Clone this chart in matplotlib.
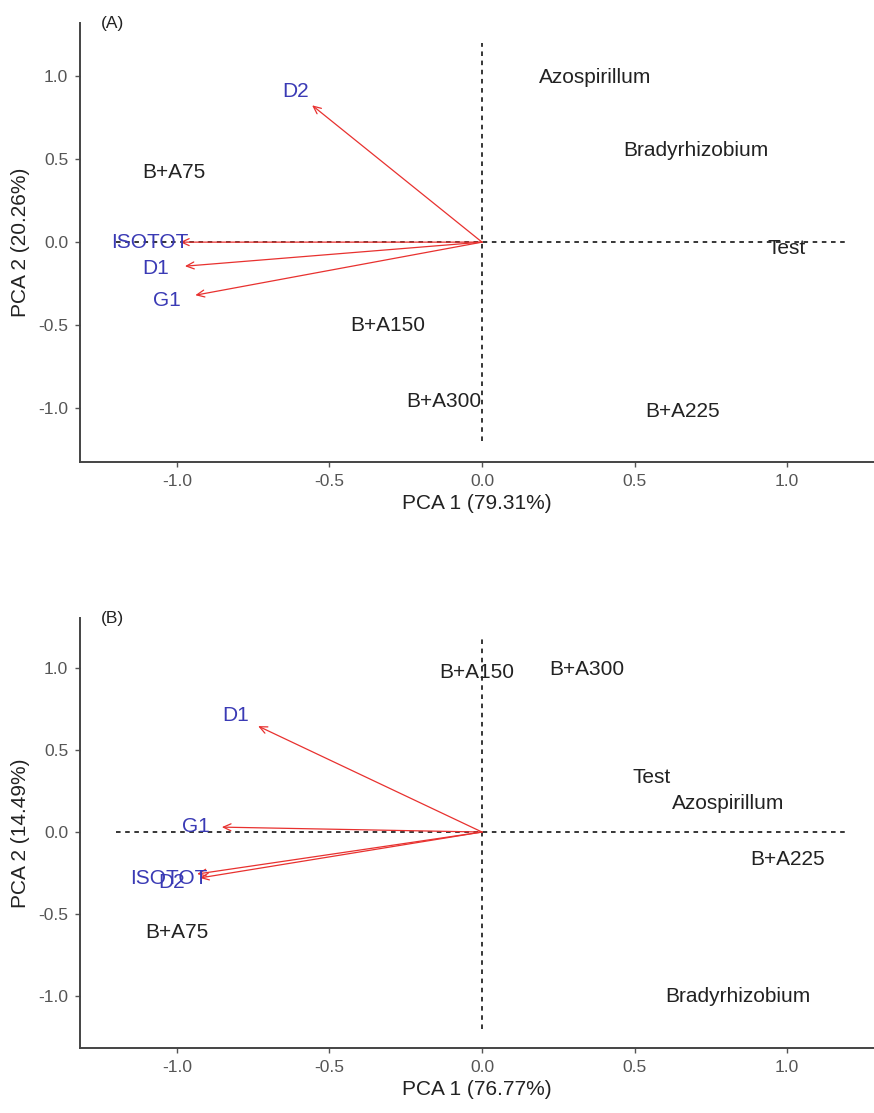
import matplotlib
matplotlib.use("Agg")
import matplotlib.pyplot as plt

plt.rcParams['font.family'] = ['Liberation Sans', 'DejaVu Sans']

# Sample scores, panel (A)
a_samples = ["Azospirillum", "Bradyrhizobium", "Test", "B+A75", "B+A150", "B+A225", "B+A300"]
a_pc1 = [0.37, 0.70, 1.00, -1.01, -0.31, 0.656, -0.125]
a_pc2 = [0.99, 0.55, -0.04, 0.42, -0.50, -1.02, -0.96]

# Variable loadings, panel (A)
a_vars = ["D2", "ISOTOT", "D1", "G1"]
a_load1 = [-0.557, -0.99, -0.974, -0.94]
a_load2 = [0.825, 0.0, -0.145, -0.32]

# Sample scores, panel (B)
b_samples = ["Azospirillum", "Bradyrhizobium", "Test", "B+A75", "B+A150", "B+A225", "B+A300"]
b_pc1 = [0.807, 0.84, 0.557, -1.0, -0.016, 1.0, 0.344]
b_pc2 = [0.177, -1.0, 0.335, -0.61, 0.97, -0.165, 0.99]

# Variable loadings, panel (B)
b_vars = ["D1", "G1", "ISOTOT", "D2"]
b_load1 = [-0.734, -0.853, -0.934, -0.925]
b_load2 = [0.646, 0.03, -0.256, -0.28]

ticks = [-1.0, -0.5, 0.0, 0.5, 1.0]


# Draw one biplot panel
def draw_panel(ax, tag, samples, pc1, pc2, var_names, load1, load2, xlab, ylab, ylim):
    # reference lines through the origin
    ax.plot([-1.2, 1.2], [0, 0], color='black', lw=1.1, ls=(0, (3, 3)), zorder=1)
    ax.plot([0, 0], [-1.2, 1.2], color='black', lw=1.1, ls=(0, (3, 3)), zorder=1)

    # loading arrows with labels a bit past the tip
    for name, lx, ly in zip(var_names, load1, load2):
        ax.annotate("", xy=(lx, ly), xytext=(0, 0),
                    arrowprops=dict(arrowstyle='->,head_length=0.55,head_width=0.25',
                                    color='#e8312f', lw=0.9, shrinkA=0, shrinkB=0),
                    zorder=2)
        ax.text(lx * 1.1, ly * 1.1, name, color='#3a3ab5', fontsize=15,
                ha='center', va='center', zorder=3)

    for name, x, y in zip(samples, pc1, pc2):
        ax.text(x, y, name, color='#222222', fontsize=15, ha='center', va='center', zorder=3)

    ax.text(-1.21, ylim[1], tag, fontsize=12.5, color='#222222', ha='center', va='center')

    ax.set_xlim(-1.318, 1.285)
    ax.set_ylim(*ylim)
    ax.set_xticks(ticks)
    ax.set_yticks(ticks)
    ax.set_xticklabels(["%.1f" % t for t in ticks])
    ax.set_yticklabels(["%.1f" % t for t in ticks])
    ax.tick_params(colors='#555555', labelcolor='#555555', labelsize=12.5,
                   length=3.5, width=1, pad=5)
    ax.set_xlabel(xlab, fontsize=15, color='#222222', labelpad=4)
    ax.set_ylabel(ylab, fontsize=15, color='#222222', labelpad=6)

    for side in ['top', 'right']:
        ax.spines[side].set_visible(False)
    for side in ['left', 'bottom']:
        ax.spines[side].set_color('#444444')
        ax.spines[side].set_linewidth(1.4)


def main():
    fig = plt.figure(figsize=(8.74, 11.13), dpi=100)

    ax_a = fig.add_axes([0.0915, 0.585, 0.9085, 0.394])
    draw_panel(ax_a, "(A)", a_samples, a_pc1, a_pc2, a_vars, a_load1, a_load2,
               "PCA 1 (79.31%)", "PCA 2 (20.26%)", (-1.325, 1.319))

    ax_b = fig.add_axes([0.0915, 0.0584, 0.9085, 0.3863])
    draw_panel(ax_b, "(B)", b_samples, b_pc1, b_pc2, b_vars, b_load1, b_load2,
               "PCA 1 (76.77%)", "PCA 2 (14.49%)", (-1.317, 1.305))

    fig.savefig("out.png", dpi=100)


if __name__ == "__main__":
    main()
